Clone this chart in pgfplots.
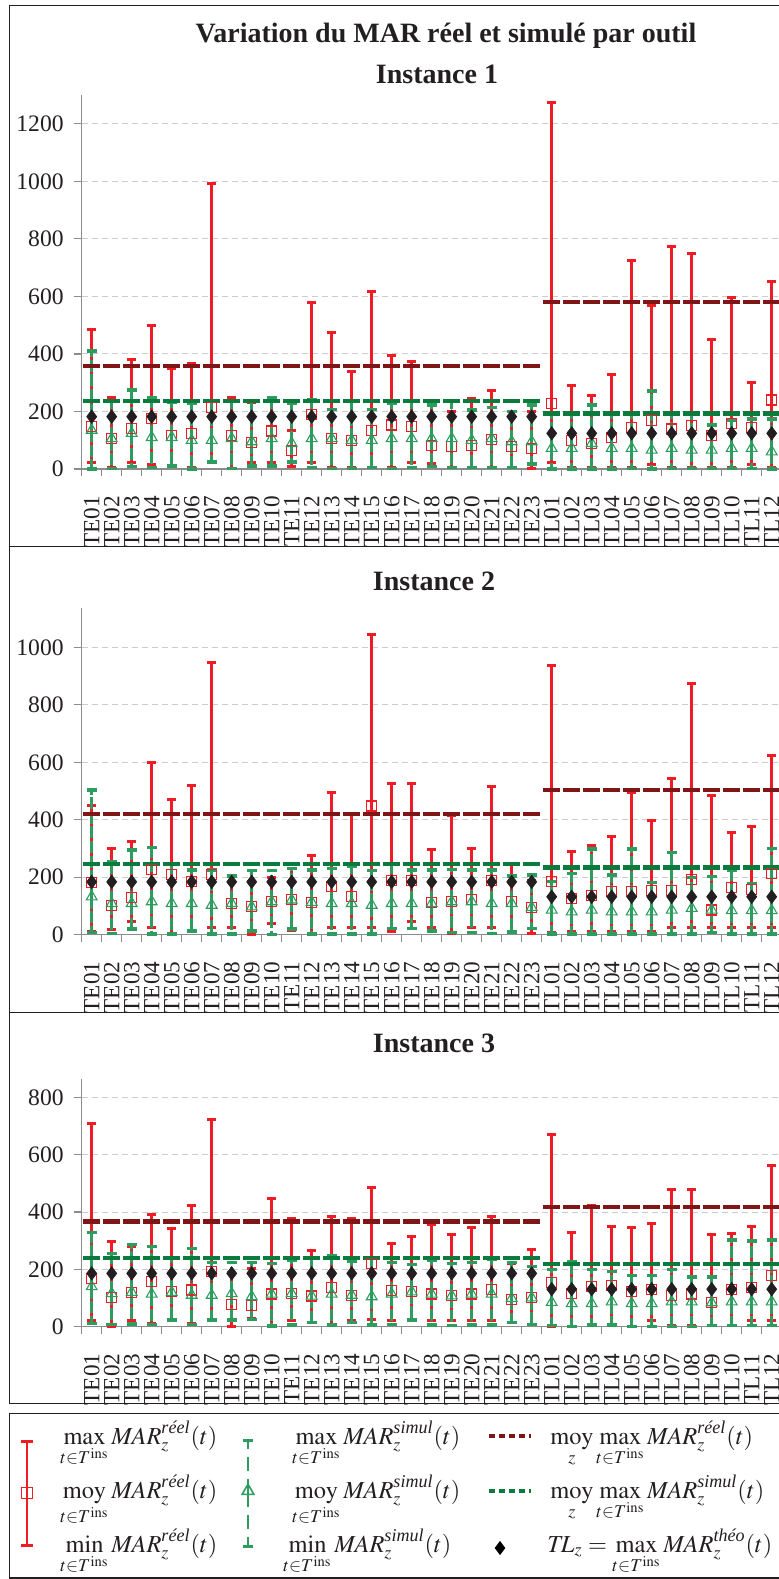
\documentclass[border=0pt]{standalone}
\usepackage{amsmath}
\usepackage{mathptmx}
\usepackage{fontspec}
\setmainfont{Liberation Serif}
\usepackage{pgfplots}
\usepackage{pgfplotstable}
\pgfplotsset{compat=1.18}
\DeclareMathOperator*{\moy}{moy}

\definecolor{cRed}{HTML}{EE1C25}
\definecolor{cGreen}{HTML}{2E9B5F}
\definecolor{cDRed}{HTML}{7E1517}
\definecolor{cDGreen}{HTML}{0A7B3C}
\definecolor{cGray}{HTML}{8C8C8C}
\definecolor{cGrid}{HTML}{CCCCCC}
\definecolor{cText}{HTML}{231F20}

% x rmin rmean rmax gmin gmean gmax tl
\pgfplotstableread[row sep=\\]{
x rmin rmean rmax gmin gmean gmax tl\\
0 23 149 485 0 135 410 182\\
1 5 106 249 2 106 238 182\\
2 23 141 381 8 124 274 182\\
3 17 176 500 5 110 248 182\\
4 10 115 348 10 110 232 182\\
5 5 124 367 0 100 228 182\\
6 24 214 992 24 100 236 182\\
7 2 118 249 2 106 234 182\\
8 24 93 230 10 95 236 182\\
9 24 132 240 10 106 248 182\\
10 10 64 135 24 89 228 182\\
11 24 191 578 5 106 242 182\\
12 5 105 475 2 106 207 182\\
13 5 100 340 2 100 234 182\\
14 5 135 618 5 100 207 182\\
15 5 153 394 2 106 228 182\\
16 23 147 373 6 106 236 182\\
17 20 83 230 8 106 222 182\\
18 5 78 199 6 106 236 182\\
19 5 83 245 6 100 205 182\\
20 5 104 272 6 106 214 182\\
21 5 78 199 6 95 199 182\\
22 2 72 199 17 95 222 182\\
23 23 228 1275 0 72 193 124\\
24 5 100 289 0 72 193 124\\
25 5 89 257 0 89 222 124\\
26 5 110 330 0 72 193 124\\
27 5 144 725 2 72 193 124\\
28 17 168 569 0 66 271 124\\
29 5 139 775 2 72 193 124\\
30 5 150 750 2 66 193 124\\
31 5 116 451 2 66 153 124\\
32 5 159 595 2 72 170 124\\
33 17 145 300 2 72 174 124\\
34 5 240 652 0 60 174 124\\
}\dataA

\pgfplotstableread[row sep=\\]{
x rmin rmean rmax gmin gmean gmax tl\\
0 10 181 449 7 132 503 184\\
1 19 103 300 5 109 254 184\\
2 45 130 324 20 109 295 184\\
3 24 227 599 2 115 304 184\\
4 2 210 471 2 109 248 184\\
5 10 184 521 13 109 225 184\\
6 24 211 947 2 103 225 184\\
7 24 109 204 2 109 204 184\\
8 0 97 184 13 97 223 184\\
9 39 115 200 0 115 223 184\\
10 13 123 231 20 121 231 184\\
11 5 113 275 2 113 225 184\\
12 24 169 495 2 109 231 184\\
13 24 132 421 2 109 239 184\\
14 24 448 1045 2 103 223 184\\
15 10 188 527 22 109 248 184\\
16 45 190 527 22 109 225 184\\
17 24 111 295 13 109 225 184\\
18 5 115 416 7 115 227 184\\
19 24 121 300 7 115 225 184\\
20 24 190 517 5 109 225 184\\
21 10 115 248 10 109 204 184\\
22 5 95 190 22 95 208 184\\
23 8 184 937 2 86 185 132\\
24 10 126 288 2 80 213 132\\
25 10 138 312 2 86 298 132\\
26 10 150 343 2 80 208 132\\
27 10 150 495 2 80 298 132\\
28 10 155 399 2 80 181 132\\
29 24 155 544 2 86 287 132\\
30 24 193 875 2 92 200 132\\
31 24 86 486 7 86 202 132\\
32 24 165 355 2 84 225 132\\
33 24 158 375 2 84 179 132\\
34 24 213 625 2 84 300 132\\
}\dataB

\pgfplotstableread[row sep=\\]{
x rmin rmean rmax gmin gmean gmax tl\\
0 23 169 709 12 140 329 186\\
1 2 101 297 8 116 256 186\\
2 20 120 279 10 120 287 186\\
3 10 157 392 8 114 279 186\\
4 23 122 343 23 120 238 186\\
5 10 128 424 8 110 273 186\\
6 23 192 721 23 110 224 186\\
7 0 78 190 23 116 224 186\\
8 29 73 203 26 105 224 186\\
9 5 114 448 3 114 221 186\\
10 20 116 376 6 116 233 186\\
11 14 107 267 14 107 238 186\\
12 5 137 384 6 114 248 186\\
13 23 110 378 15 110 227 186\\
14 25 221 486 6 105 238 186\\
15 23 126 291 8 114 224 186\\
16 23 124 314 23 122 217 186\\
17 20 114 358 6 114 230 186\\
18 20 108 322 4 108 221 186\\
19 23 114 347 6 114 224 186\\
20 20 131 386 6 114 236 186\\
21 14 95 221 14 99 224 186\\
22 6 101 271 8 101 209 186\\
23 0 153 670 4 85 200 131\\
24 2 116 329 0 81 227 131\\
25 5 140 424 6 81 200 131\\
26 5 145 349 6 87 192 131\\
27 2 124 345 0 81 178 131\\
28 23 131 360 0 81 178 131\\
29 5 108 477 0 87 200 131\\
30 5 114 480 0 87 174 131\\
31 5 84 323 4 84 174 131\\
32 5 131 326 4 87 302 131\\
33 20 137 349 4 87 299 131\\
34 23 178 564 4 87 302 131\\
}\dataC

\pgfplotsset{
  panel/.style={
    scale only axis, width=350pt,
    xmin=-0.5, xmax=34.5, ymin=0,
    axis x line*=bottom, axis y line*=left,
    axis line style={-, draw=cGray, line width=0.6pt},
    xtick={0,...,34},
    xticklabels={TE01,TE02,TE03,TE04,TE05,TE06,TE07,TE08,TE09,TE10,TE11,TE12,TE13,TE14,TE15,TE16,TE17,TE18,TE19,TE20,TE21,TE22,TE23,TL01,TL02,TL03,TL04,TL05,TL06,TL07,TL08,TL09,TL10,TL11,TL12},
    major x tick style={draw=none},
    minor xtick={-0.5,0.5,...,34.5},
    minor x tick style={draw=cGray, line width=0.6pt},
    minor tick length=3.5pt,
    major tick length=4pt,
    tick align=outside,
    y tick style={draw=cGray, line width=0.6pt},
    xticklabel style={yshift=-6pt, rotate=90, anchor=east, font=\fontsize{11.6}{11}\selectfont, text=cText},
    yticklabel style={font=\fontsize{11.8}{11}\selectfont, text=cText, xshift=-1.5pt},
    ymajorgrids, grid style={draw=cGrid, dash pattern=on 3pt off 2pt, line width=0.5pt},
    clip=false,
    /pgf/number format/assume math mode=true,
    /pgf/number format/1000 sep={},
  },
  hline/.style={line width=2.1pt, dash pattern=on 8.5pt off 1.5pt, dash phase=9.25pt},
}

\newcommand\drawpanel[5]{%
  \addplot[draw=none, mark=none, forget plot, error bars/.cd, y dir=both, y explicit,
    error bar style={draw=cRed, solid, line width=1.3pt},
    error mark options={rotate=90, draw=cRed, solid, line width=1.5pt, mark size=2.2pt}]
    table[x=x, y=rmean, y error plus expr=\thisrow{rmax}-\thisrow{rmean}, y error minus expr=\thisrow{rmean}-\thisrow{rmin}] {#1};
  \addplot[draw=none, mark=none, forget plot, error bars/.cd, y dir=both, y explicit,
    error bar style={draw=cGreen, line width=1.4pt, dash pattern=on 6pt off 1.3pt},
    error mark options={rotate=90, draw=cGreen, solid, line width=1.7pt, mark size=2.6pt}]
    table[x=x, y=gmean, y error plus expr=\thisrow{gmax}-\thisrow{gmean}, y error minus expr=\thisrow{gmean}-\thisrow{gmin}] {#1};
  \addplot[cDRed, hline] coordinates {(-0.5,#2) (22.5,#2)};
  \addplot[cDRed, hline] coordinates {(22.5,#4) (34.5,#4)};
  \addplot[cDGreen, hline] coordinates {(-0.5,#3) (22.5,#3)};
  \addplot[cDGreen, hline] coordinates {(22.5,#5) (34.5,#5)};
  \addplot[only marks, mark=square, mark size=2.5pt, mark options={draw=cRed, line width=0.55pt, solid}] table[x=x, y=rmean] {#1};
  \addplot[only marks, mark=triangle, mark size=3.1pt, mark options={draw=cGreen, line width=0.55pt, solid}] table[x=x, y=gmean] {#1};
  \addplot[only marks, mark=diamond*, mark size=3.3pt, mark options={draw=cText, fill=cText, solid}] table[x=x, y=tl] {#1};
}

\begin{document}
\begin{tikzpicture}
\begin{scope}[line width=0.7pt, draw=cText]
\draw (4.75pt,-2.85pt) rectangle (396pt,-273.35pt);
\draw (4.75pt,-273.35pt) rectangle (396pt,-506.35pt);
\draw (4.75pt,-506.35pt) rectangle (396pt,-701.65pt);
\draw (4.75pt,-706.65pt) rectangle (396pt,-789pt);
\end{scope}

\node[font=\fontsize{14}{15}\selectfont\bfseries, text=cText, anchor=base] at (223pt,-21pt) {Variation du MAR réel et simulé par outil};
\node[font=\fontsize{14}{15}\selectfont\bfseries, text=cText, anchor=base] at (218.5pt,-41.5pt) {Instance 1};
\node[font=\fontsize{14}{15}\selectfont\bfseries, text=cText, anchor=base] at (217pt,-295pt) {Instance 2};
\node[font=\fontsize{14}{15}\selectfont\bfseries, text=cText, anchor=base] at (217pt,-526pt) {Instance 3};

\begin{axis}[panel, at={(40.85pt,-234.5pt)}, anchor=south west, height=187pt, ymax=1300, ytick={0,200,...,1200}]
\drawpanel{\dataA}{359}{236}{581}{193}
\end{axis}

\begin{axis}[panel, at={(40.85pt,-467.35pt)}, anchor=south west, height=163.2pt, ymax=1136, ytick={0,200,...,1000}]
\drawpanel{\dataB}{421}{246}{503}{234}
\end{axis}

\begin{axis}[panel, at={(40.85pt,-663.35pt)}, anchor=south west, height=124pt, ymax=865, ytick={0,200,...,800}]
\drawpanel{\dataC}{367}{241}{417}{219}
\end{axis}

% legend
\begin{axis}[at={(0pt,-789.5pt)}, anchor=south west, scale only axis, width=389.5pt, height=84.5pt,
  hide axis, xmin=0, xmax=779, ymin=1410, ymax=1579, y dir=reverse, clip=false]
\addplot[draw=none, mark=none, error bars/.cd, y dir=both, y explicit,
    error bar style={draw=cRed, solid, line width=1.2pt},
    error mark options={rotate=90, draw=cRed, solid, line width=1.5pt, mark size=3pt}]
    coordinates {(27,1493) +- (0,52)};
\addplot[draw=none, mark=none, error bars/.cd, y dir=both, y explicit,
    error bar style={draw=cGreen, line width=1.2pt, dash pattern=on 7pt off 4pt},
    error mark options={rotate=90, draw=cGreen, solid, line width=1.5pt, mark size=2.5pt}]
    coordinates {(248,1493) +- (0,53)};
\addplot[only marks, mark=square, mark size=2.8pt, mark options={draw=cRed, fill=white, line width=0.6pt}] coordinates {(27,1493)};
\addplot[only marks, mark=triangle, mark size=3.4pt, mark options={draw=cGreen, fill=white, line width=0.8pt}] coordinates {(248,1491)};
\addplot[cDRed, line width=2.1pt, dash pattern=on 3pt off 2pt] coordinates {(489,1436) (531,1436)};
\addplot[cDGreen, line width=2.1pt, dash pattern=on 3pt off 2pt] coordinates {(489,1491) (531,1491)};
\addplot[only marks, mark=diamond*, mark size=3.2pt, mark options={draw=black, fill=black}] coordinates {(500,1548)};

\begin{scope}[every node/.style={anchor=base west, inner sep=0pt, text=cText, font=\fontsize{12.2}{14}\selectfont}]
\node at (axis cs:60,1444) {$\displaystyle\max_{t\in T^{\mathrm{ins}}} \mathit{MAR}_z^{\textit{réel}}(t)$};
\node at (axis cs:60,1498) {$\displaystyle\moy_{t\in T^{\mathrm{ins}}} \mathit{MAR}_z^{\textit{réel}}(t)$};
\node at (axis cs:60,1552) {$\displaystyle\min_{t\in T^{\mathrm{ins}}} \mathit{MAR}_z^{\textit{réel}}(t)$};
\node at (axis cs:292,1444) {$\displaystyle\max_{t\in T^{\mathrm{ins}}} \mathit{MAR}_z^{\textit{simul}}(t)$};
\node at (axis cs:292,1498) {$\displaystyle\moy_{t\in T^{\mathrm{ins}}} \mathit{MAR}_z^{\textit{simul}}(t)$};
\node at (axis cs:283,1552) {$\displaystyle\min_{t\in T^{\mathrm{ins}}} \mathit{MAR}_z^{\textit{simul}}(t)$};
\node at (axis cs:550,1444) {$\displaystyle\moy_{z}\max_{t\in T^{\mathrm{ins}}} \mathit{MAR}_z^{\textit{réel}}(t)$};
\node at (axis cs:550,1498) {$\displaystyle\moy_{z}\max_{t\in T^{\mathrm{ins}}} \mathit{MAR}_z^{\textit{simul}}(t)$};
\node at (axis cs:547,1552) {$\displaystyle \mathit{TL}_z=\max_{t\in T^{\mathrm{ins}}} \mathit{MAR}_z^{\textit{théo}}(t)$};
\end{scope}
\end{axis}

\pgfresetboundingbox
\path (0,0) rectangle (389.5pt,-789.5pt);
\end{tikzpicture}
\end{document}
